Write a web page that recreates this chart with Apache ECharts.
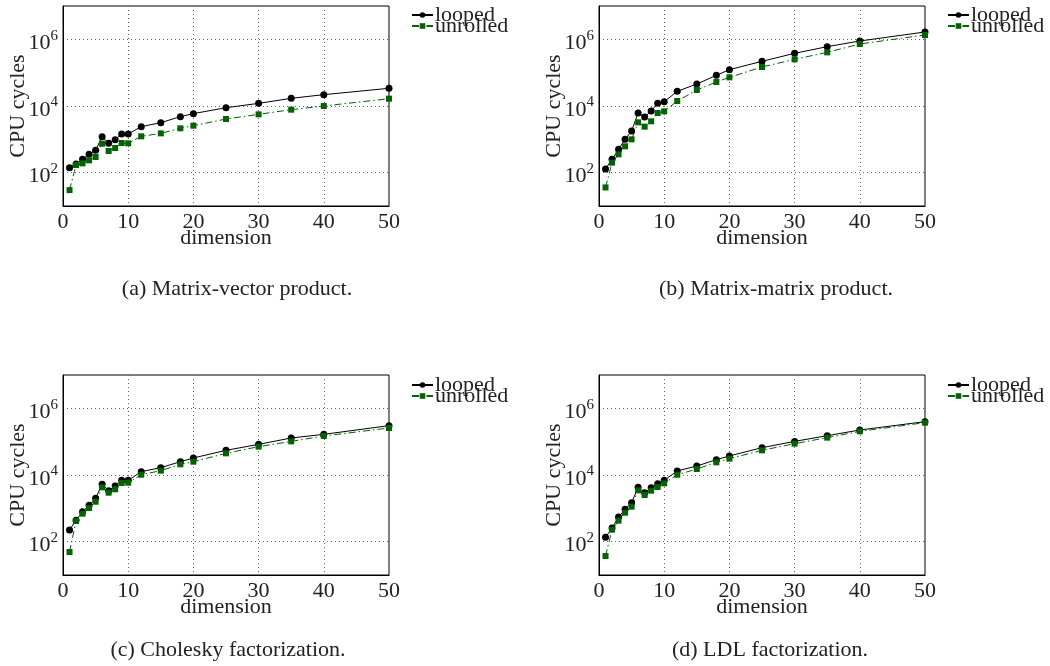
<!DOCTYPE html>
<html>
<head>
<meta charset="utf-8">
<script src="https://cdn.jsdelivr.net/npm/echarts@6/dist/echarts.min.js"></script>
<style>
  html, body { margin: 0; padding: 0; background: #fff; }
  #chart { width: 1050px; height: 666px; }
</style>
</head>
<body>
<div id="chart"></div>
<script>
// Matrix sizes benchmarked
const dims = [1, 2, 3, 4, 5, 6, 7, 8, 9, 10, 12, 15, 18, 20, 25, 30, 35, 40, 50];

// CPU cycles per routine, looped vs. unrolled code
const mvLooped   = [141, 182, 251, 355, 468, 1200, 760, 980, 1450, 1450, 2400, 3160, 4800, 5900, 8900, 12000, 17000, 21900, 33900];
const mvUnrolled = [30, 170, 190, 234, 295, 740, 447, 550, 776, 760, 1230, 1510, 2140, 2570, 4070, 5620, 7760, 10000, 16600];

const mmLooped   = [129, 251, 500, 1000, 1780, 6170, 4680, 7080, 12000, 13500, 27500, 45700, 83200, 123000, 219000, 380000, 603000, 891000, 1660000];
const mmUnrolled = [36, 200, 355, 617, 1000, 3240, 2400, 3470, 6170, 6920, 14100, 30200, 52500, 72400, 148000, 251000, 407000, 724000, 1350000];

const cholLooped   = [224, 437, 794, 1230, 2000, 5250, 3390, 4680, 6920, 6920, 12600, 16600, 25100, 32400, 55000, 83000, 129000, 166000, 302000];
const cholUnrolled = [49, 417, 692, 1020, 1580, 4270, 2950, 3720, 5750, 5890, 10200, 13500, 20900, 25100, 44700, 70800, 102000, 148000, 257000];

const ldlLooped   = [135, 257, 550, 933, 1480, 4270, 2950, 4170, 5500, 6920, 13200, 18600, 28800, 37200, 66100, 102000, 151000, 224000, 398000];
const ldlUnrolled = [37, 229, 427, 741, 1120, 3470, 2510, 3390, 4370, 5620, 10200, 15100, 24000, 30900, 55000, 87100, 132000, 204000, 372000];

const seriesNames = ['looped', 'unrolled'];
const captions = [
  '(a) Matrix-vector product.',
  '(b) Matrix-matrix product.',
  '(c) Cholesky factorization.',
  '(d) LDL factorization.'
];
const xLabel = 'dimension';
const yLabel = 'CPU cycles';

const panels = [
  { looped: mvLooped, unrolled: mvUnrolled },
  { looped: mmLooped, unrolled: mmUnrolled },
  { looped: cholLooped, unrolled: cholUnrolled },
  { looped: ldlLooped, unrolled: ldlUnrolled }
];

// Layout of the 2x2 panel grid
const FONT = '"Liberation Serif", "DejaVu Serif", serif';
const TEXT = '#222';
const GREEN = '#006400';
const boxes = [
  { left: 63, top: 6, width: 326, height: 200 },
  { left: 599, top: 6, width: 326, height: 200 },
  { left: 63, top: 375, width: 326, height: 200 },
  { left: 599, top: 375, width: 326, height: 200 }
];
const legendPos = [
  { left: 411, top: 4 },
  { left: 947, top: 4 },
  { left: 411, top: 374 },
  { left: 947, top: 374 }
];
const captionPos = [
  { x: 237, y: 289 },
  { x: 776, y: 289 },
  { x: 228, y: 650 },
  { x: 770, y: 650 }
];

const pairs = (xs, ys) => xs.map((x, i) => [x, ys[i]]);

const grid = boxes.map(b => ({
  left: b.left, top: b.top, width: b.width, height: b.height,
  show: true, borderColor: '#000', borderWidth: 1, backgroundColor: '#fff'
}));

const gridLine = { show: true, showMinLine: false, showMaxLine: false,
  lineStyle: { color: '#666', width: 1, type: [1, 3] } };

const xAxis = boxes.map((b, i) => ({
  type: 'value', gridIndex: i, min: 0, max: 50, interval: 10,
  name: xLabel, nameLocation: 'middle', nameGap: 21, nameMoveOverlap: false,
  nameTextStyle: { fontFamily: FONT, fontSize: 22, color: TEXT },
  axisLine: { show: true, lineStyle: { color: '#000', width: 1 } },
  axisTick: { show: false },
  axisLabel: { fontFamily: FONT, fontSize: 22, color: TEXT, margin: 5 },
  splitLine: gridLine
}));

// Log axis in base 100 so the labelled grid falls on every second decade
const yAxis = boxes.map((b, i) => ({
  type: 'log', gridIndex: i, logBase: 100, min: 10, max: 1e7, splitNumber: 3,
  name: yLabel, nameLocation: 'middle', nameGap: 34, nameMoveOverlap: false,
  nameTextStyle: { fontFamily: FONT, fontSize: 22, color: TEXT },
  axisLine: { show: true, lineStyle: { color: '#000', width: 1 } },
  axisTick: { show: false },
  axisLabel: {
    showMinLabel: false, showMaxLabel: false, margin: 5,
    fontFamily: FONT, fontSize: 22, color: TEXT, lineHeight: 30,
    padding: [8, 0, 0, 0],
    formatter: v => '10{s|' + Math.round(Math.log10(v)) + '}',
    rich: { s: { fontFamily: FONT, fontSize: 15, color: TEXT, lineHeight: 15, verticalAlign: 'top' } }
  },
  splitLine: gridLine
}));

const series = [];
panels.forEach((p, i) => {
  series.push({
    name: seriesNames[0], type: 'line', xAxisIndex: i, yAxisIndex: i,
    data: pairs(dims, p.looped),
    symbol: 'circle', symbolSize: 7, showSymbol: true,
    itemStyle: { color: '#000' },
    lineStyle: { color: '#000', width: 1 }
  });
  series.push({
    name: seriesNames[1], type: 'line', xAxisIndex: i, yAxisIndex: i,
    data: pairs(dims, p.unrolled),
    symbol: 'rect', symbolSize: 6, showSymbol: true,
    itemStyle: { color: GREEN },
    lineStyle: { color: GREEN, width: 1, type: [7, 3, 1.5, 3] }
  });
});

const legendText = { fontFamily: FONT, fontSize: 22, color: TEXT, padding: [0, 0, 0, -3] };
const legend = legendPos.map(pos => ({
  orient: 'vertical', left: pos.left, top: pos.top,
  itemWidth: 21, itemHeight: 7, itemGap: -11, padding: 0,
  selectedMode: false,
  textStyle: legendText,
  data: seriesNames.map(n => ({ name: n, textStyle: legendText }))
}));

const graphic = captionPos.map((c, i) => ({
  type: 'text', x: c.x, y: c.y,
  style: { text: captions[i], fontFamily: FONT, fontSize: 22, fill: TEXT,
    align: 'center', verticalAlign: 'middle' }
}));

const chart = echarts.init(document.getElementById('chart'), null, { renderer: 'canvas' });
chart.setOption({
  backgroundColor: '#fff',
  animation: false,
  textStyle: { fontFamily: FONT },
  grid, xAxis, yAxis, series, legend, graphic
});
</script>
</body>
</html>
